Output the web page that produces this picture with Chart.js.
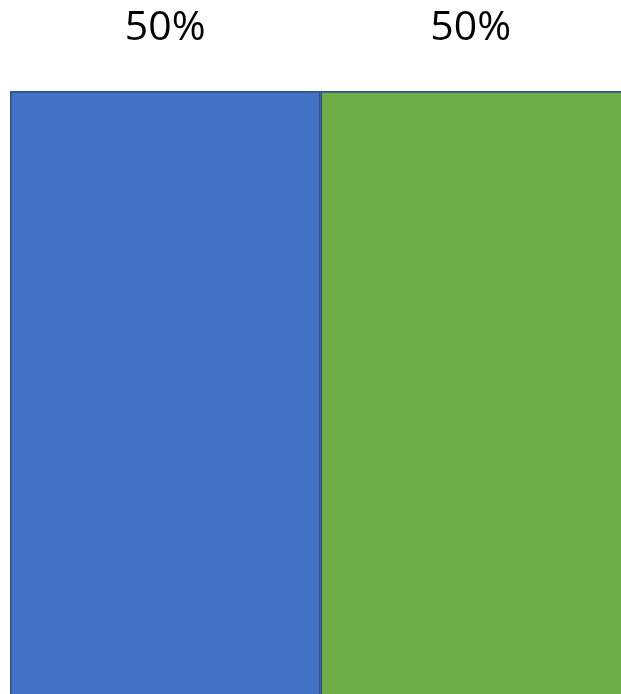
<!DOCTYPE html>
<html><head><meta charset="utf-8">
<script src="https://cdn.jsdelivr.net/npm/chart.js@4/dist/chart.umd.min.js"></script>
<style>
html,body{margin:0;padding:0;background:#fff;overflow:hidden;width:621px;height:694px;}
#wrap{position:absolute;left:0;top:0;width:641px;height:720px;}
</style></head>
<body><div id="wrap"><canvas id="c" width="641" height="720"></canvas></div>
<script>
const categories = ["A", "B"];
const values = [50, 50];
const labels = ["50%", "50%"];
const colors = ["#4472C4", "#70AD47"];

const labelPlugin = {
  id: "topLabels",
  afterDatasetsDraw(chart) {
    const ctx = chart.ctx;
    const meta = chart.getDatasetMeta(0);
    ctx.save();
    ctx.font = "41px 'Open Sans', sans-serif";
    ctx.fillStyle = "#000";
    ctx.textAlign = "center";
    ctx.textBaseline = "middle";
    meta.data.forEach((bar, i) => {
      const p = bar.getProps(["x", "width"], true);
      const left = p.x - p.width / 2;
      const right = Math.min(p.x + p.width / 2, 621);
      ctx.fillText(labels[i], (left + right) / 2, 28);
    });
    ctx.restore();
  }
};

new Chart(document.getElementById("c"), {
  type: "bar",
  data: {
    labels: categories,
    datasets: [{
      data: values,
      backgroundColor: colors,
      borderColor: "#2F528F",
      borderWidth: 2,
      borderSkipped: false,
      barPercentage: 1,
      categoryPercentage: 1
    }]
  },
  options: {
    responsive: false,
    animation: false,
    devicePixelRatio: 1,
    layout: { padding: { left: 10, right: 10, top: 91, bottom: 0 } },
    plugins: { legend: { display: false }, tooltip: { enabled: false } },
    scales: {
      x: { display: false },
      y: { display: false, min: 0, max: 50 }
    }
  },
  plugins: [labelPlugin]
});
</script></body></html>
